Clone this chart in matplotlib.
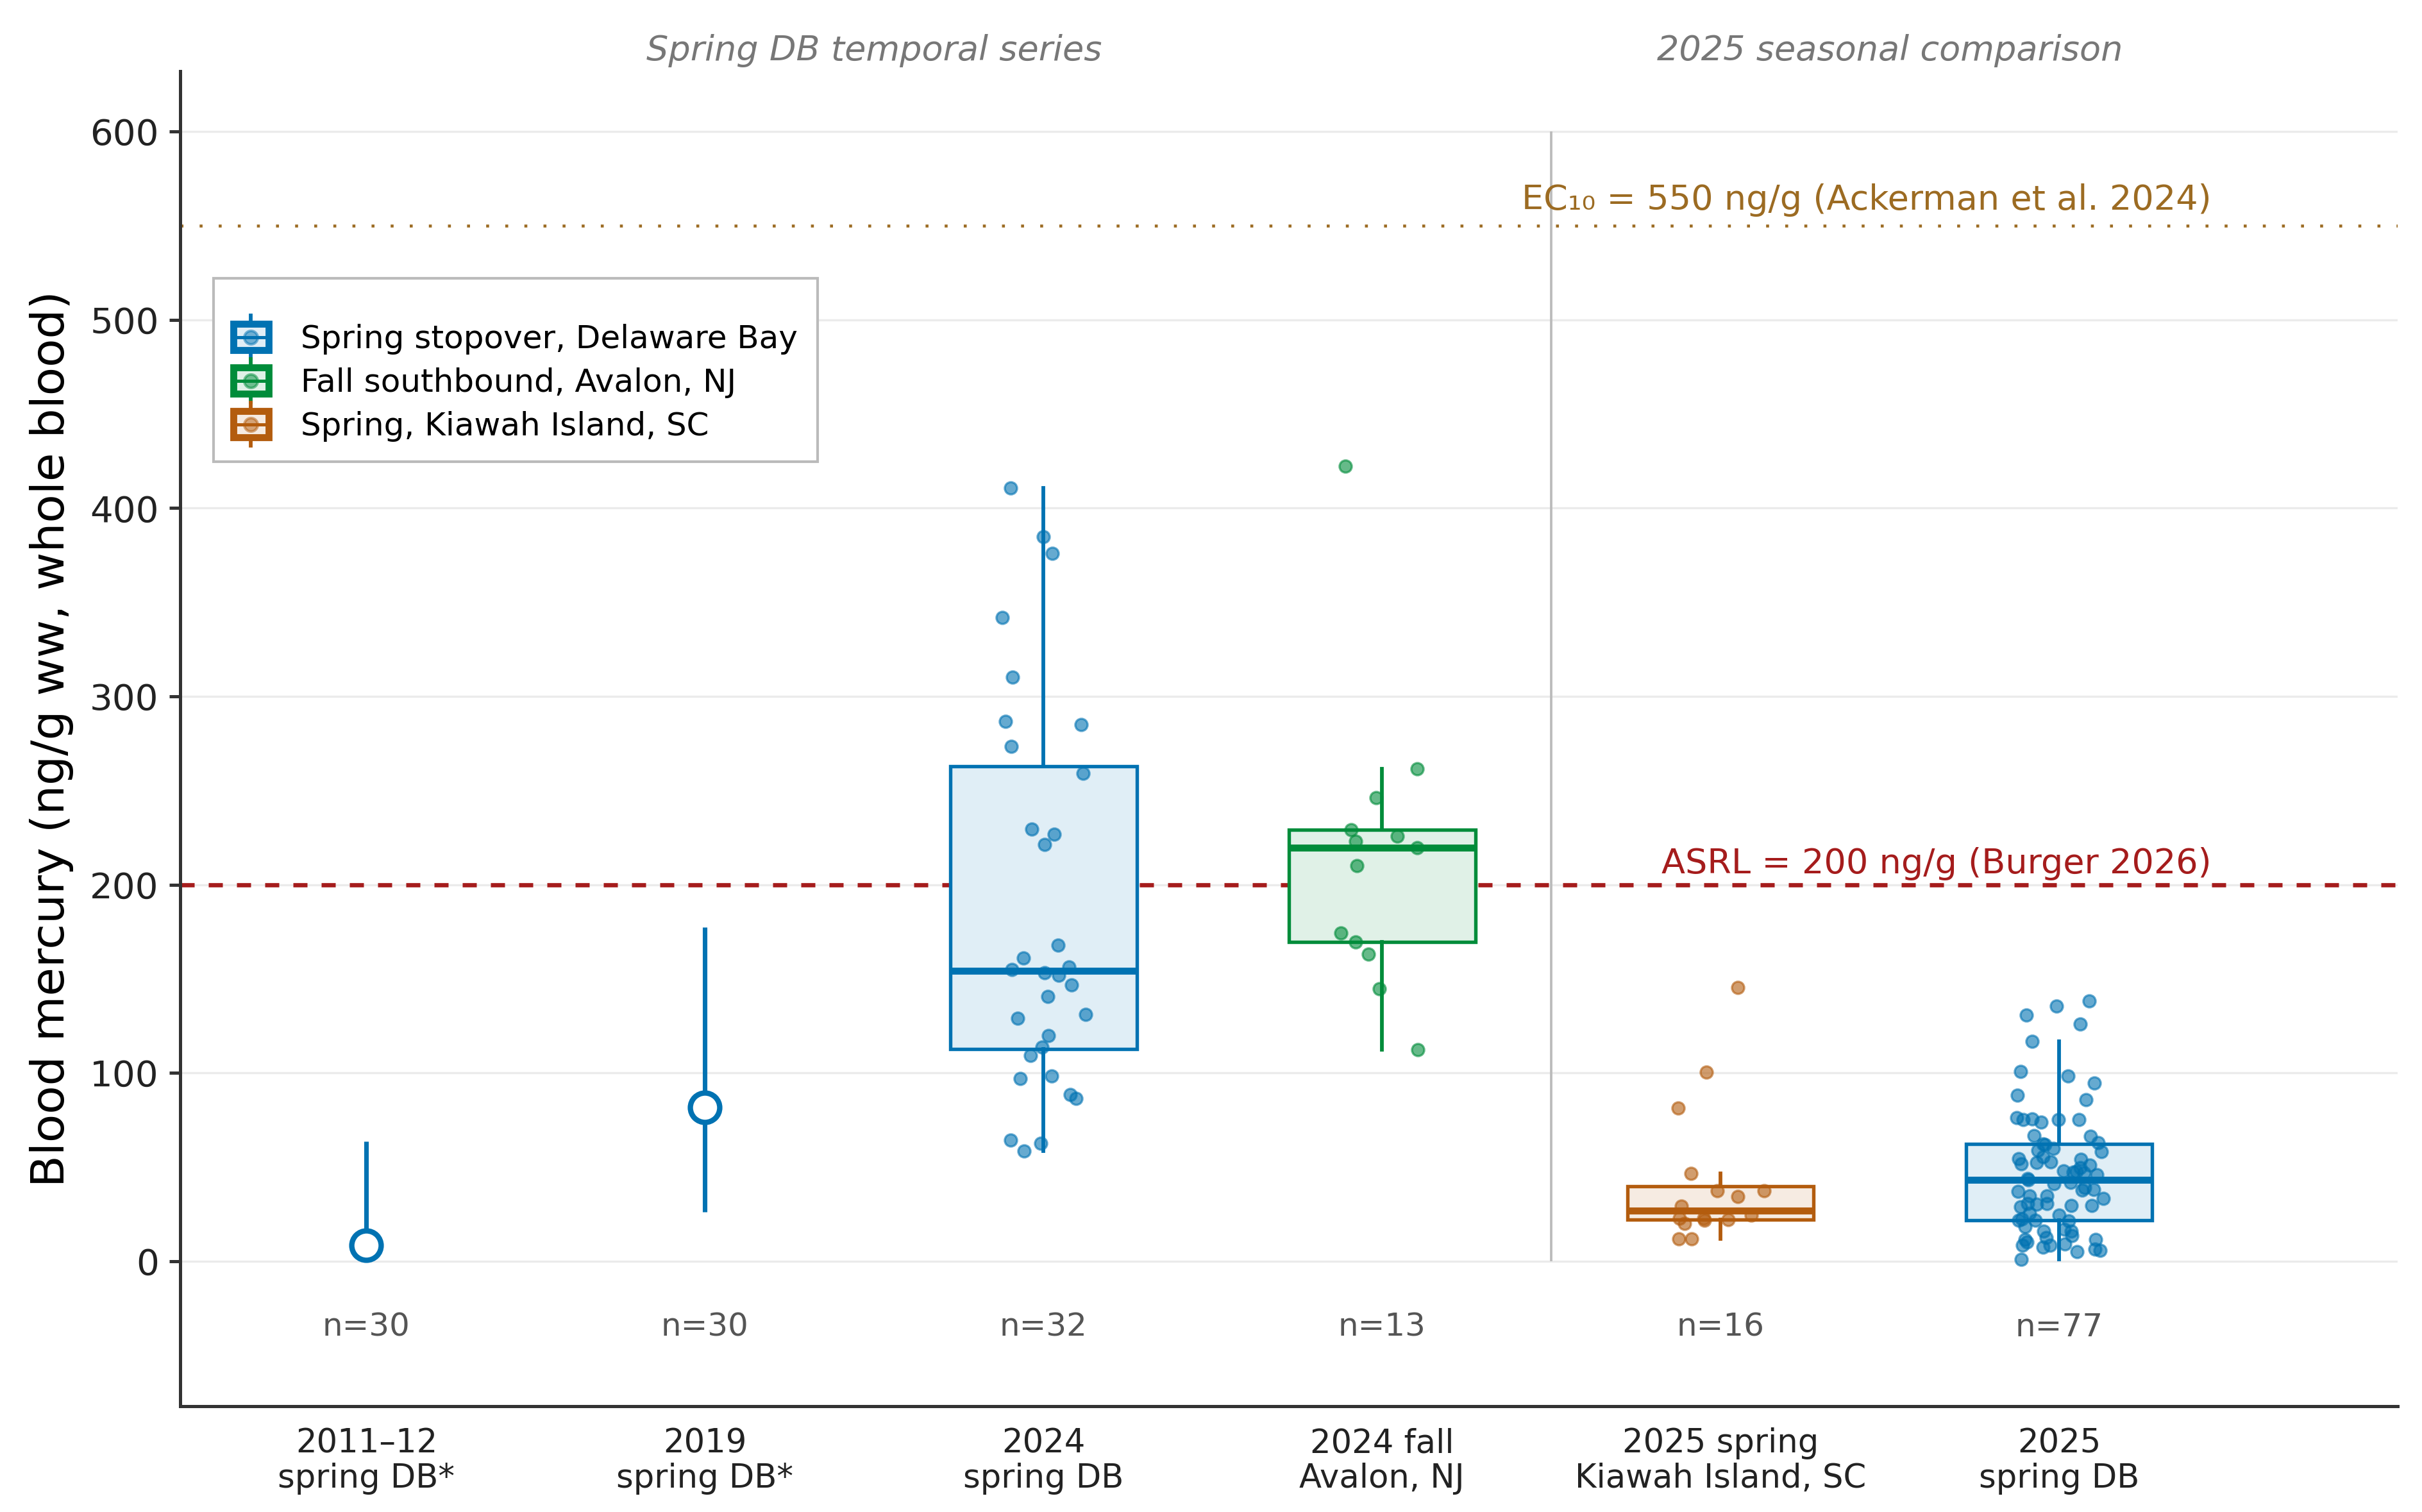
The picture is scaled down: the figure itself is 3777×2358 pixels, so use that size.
import numpy as np
import matplotlib
matplotlib.use("Agg")
import matplotlib.pyplot as plt
from matplotlib.patches import Rectangle, Patch
from matplotlib.lines import Line2D
from matplotlib.legend_handler import HandlerBase

BLUE = "#0072b2"
GREEN = "#008c3a"
ORANGE = "#b35c0e"
RED = "#a51c1c"
GOLD = "#9c6b22"

categories = ["2011–12\nspring DB*", "2019\nspring DB*", "2024\nspring DB",
              "2024 fall\nAvalon, NJ", "2025 spring\nKiawah Island, SC", "2025\nspring DB"]
n_per_group = [30, 30, 32, 13, 16, 77]

# earlier spring DB studies: central value with range
hist_center = [8.3, 81.8]
hist_low = [0.0, 26.2]
hist_high = [63.6, 177.3]

spring_db_2024 = [410.7, 384.7, 376.0, 341.9, 310.3, 285.0, 286.6, 273.3, 259.2, 226.9,
                  229.5, 221.4, 167.9, 161.1, 154.9, 156.2, 152.0, 153.3, 146.8, 140.5,
                  131.1, 129.1, 119.7, 113.7, 109.2, 98.3, 97.0, 88.4, 86.5, 64.4,
                  62.5, 58.4]
fall_avalon_2024 = [422.2, 261.6, 246.2, 229.0, 225.6, 223.0, 219.6, 209.9, 174.4, 169.7,
                    163.2, 144.7, 112.4]
kiawah_2025 = [145.2, 100.4, 81.2, 46.6, 37.3, 37.5, 34.3, 29.3, 22.7, 24.5,
               22.2, 22.7, 21.6, 20.2, 11.9, 11.7]
spring_db_2025 = [138.3, 135.5, 130.8, 125.8, 116.8, 100.7, 98.5, 94.5, 88.3, 85.8,
                  75.6, 75.3, 76.1, 73.9, 75.2, 75.3, 66.5, 66.8, 62.2, 59.0,
                  58.3, 63.0, 61.8, 59.8, 55.5, 54.2, 54.5, 51.6, 52.8, 52.3,
                  51.1, 49.7, 48.0, 47.2, 47.7, 46.8, 46.0, 43.2, 42.0, 44.0,
                  41.0, 39.2, 38.0, 37.8, 36.9, 34.7, 34.7, 33.2, 30.5, 30.1,
                  30.7, 28.8, 29.5, 29.5, 25.6, 24.4, 22.5, 21.5, 21.8, 21.6,
                  18.2, 17.0, 16.1, 15.9, 13.6, 12.5, 10.2, 7.4, 8.5, 11.4,
                  11.4, 8.5, 9.3, 5.7, 6.25, 5.1, 1.1]

ASRL = 200
EC10 = 550

legend_labels = ["Spring stopover, Delaware Bay", "Fall southbound, Avalon, NJ",
                 "Spring, Kiawah Island, SC"]


def tint(color, a=0.12):
    c = np.array(matplotlib.colors.to_rgb(color))
    return tuple(a * c + (1 - a))


class BoxHandler(HandlerBase):
    """Legend key: a little box with whisker, median and a dot."""

    def create_artists(self, legend, orig, xd, yd, w, h, fontsize, trans):
        c = orig.get_edgecolor()
        fc = orig.get_facecolor()
        cx = -xd + w / 2
        y0 = -yd
        whisk = Line2D([cx, cx], [y0 - 0.3 * h, y0 + 1.3 * h], color=c, lw=1.4, transform=trans)
        box = Rectangle((-xd, y0), w, h, facecolor=fc, edgecolor=c, lw=2.6, transform=trans)
        med = Line2D([-xd, -xd + w], [y0 + h / 2] * 2, color=c, lw=1.2, transform=trans)
        dot = Line2D([cx], [y0 + h / 2], marker="o", ms=5, mfc=c, mec=c, alpha=0.5,
                     ls="none", transform=trans)
        return [whisk, box, med, dot]


fig = plt.figure(figsize=(3777 / 300, 2358 / 300), dpi=300)
ax = fig.add_axes([0.0744, 0.070, 0.990 - 0.0744, 0.9529 - 0.070])

positions = np.arange(len(categories))

# historical point + range
ax.vlines(positions[:2], hist_low, hist_high, color=BLUE, lw=1.7, zorder=3)
ax.plot(positions[:2], hist_center, "o", ms=11, mfc="white", mec=BLUE, mew=2.0, zorder=4)

groups = [(2, spring_db_2024, BLUE), (3, fall_avalon_2024, GREEN),
          (4, kiawah_2025, ORANGE), (5, spring_db_2025, BLUE)]
rng = np.random.default_rng(11)
for pos, vals, col in groups:
    ax.boxplot([vals], positions=[pos], widths=0.55, whis=1.5, showfliers=False,
               showcaps=False, patch_artist=True,
               boxprops=dict(facecolor=tint(col), edgecolor=col, lw=1.3),
               whiskerprops=dict(color=col, lw=1.4),
               medianprops=dict(color=col, lw=2.6), zorder=2)
    jit = rng.uniform(-0.13, 0.13, len(vals))
    ax.scatter(pos + jit, vals, s=21, color=col, alpha=0.6, edgecolor=col,
               linewidth=0.8, zorder=5)

# thresholds
ax.axhline(ASRL, color=RED, lw=1.6, ls=(0, (3.3, 3.3)), zorder=1.5)
ax.axhline(EC10, color=GOLD, lw=1.1, ls=(0, (1, 5.5)), zorder=1.5)
ax.text(5.45, ASRL + 6, "ASRL = 200 ng/g (Burger 2026)", color=RED, fontsize=13,
        ha="right", va="baseline")
ax.text(5.45, EC10 + 8.5, "EC₁₀ = 550 ng/g (Ackerman et al. 2024)", color=GOLD,
        fontsize=13, ha="right", va="baseline")

# panel separator and section titles
ax.vlines(3.5, 0, 600, color="#bbbbbb", lw=0.9, zorder=1)
ax.text(1.5, 643, "Spring DB temporal series", color="#777777", style="italic",
        fontsize=13, ha="center", va="center", clip_on=False)
ax.text(4.5, 643, "2025 seasonal comparison", color="#777777", style="italic",
        fontsize=13, ha="center", va="center", clip_on=False)

for pos, n in zip(positions, n_per_group):
    ax.text(pos, -35, f"n={n}", color="#555555", fontsize=12, ha="center", va="center")

ax.set_xlim(-0.55, 6.0)
ax.set_ylim(-77, 632)
ax.set_xticks(positions)
ax.set_xticklabels(categories, fontsize=12.3, color="#222222", linespacing=1.12)
ax.set_yticks(np.arange(0, 601, 100))
ax.tick_params(axis="y", labelsize=13.5, length=4, width=1.2, color="#333333",
               labelcolor="#222222", pad=4)
ax.tick_params(axis="x", length=0, pad=8)
ax.set_ylabel("Blood mercury (ng/g ww, whole blood)", fontsize=17.4, labelpad=6)

ax.yaxis.grid(True, color="#ebebeb", lw=0.8)
ax.set_axisbelow(True)
for s in ("top", "right"):
    ax.spines[s].set_visible(False)
for s in ("left", "bottom"):
    ax.spines[s].set_color("#333333")
    ax.spines[s].set_linewidth(1.2)

handles = [Patch(facecolor=tint(c), edgecolor=c) for c in (BLUE, GREEN, ORANGE)]
leg = ax.legend(handles, legend_labels, handler_map={Patch: BoxHandler()},
                loc="upper left", bbox_to_anchor=(0.015, 0.845), borderaxespad=0,
                fontsize=12, handlelength=1.1, handleheight=0.9, labelspacing=0.4,
                handletextpad=1.0, borderpad=0.62, title=" ", title_fontsize=5,
                fancybox=False, framealpha=1, edgecolor="#bbbbbb")
leg.get_frame().set_linewidth(1.0)
leg._legend_box.align = "left"

fig.savefig("out.png", dpi=300)
